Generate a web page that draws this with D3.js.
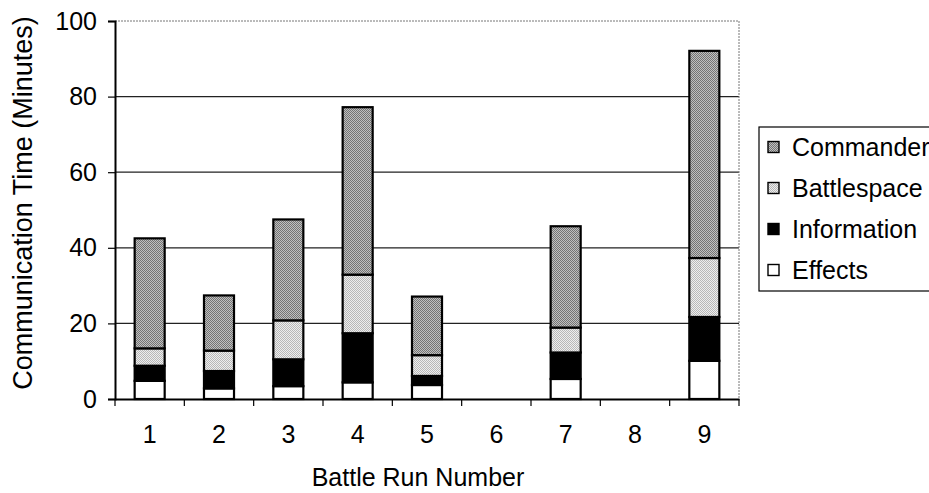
<!DOCTYPE html>
<html>
<head>
<meta charset="utf-8">
<script src="https://cdn.jsdelivr.net/npm/d3@7/dist/d3.min.js"></script>
<style>
  html, body { margin: 0; padding: 0; background: #fff; }
  svg { display: block; font-family: "Liberation Sans", Arial, sans-serif; }
</style>
</head>
<body>
<svg id="chart" width="929" height="493"></svg>
<script>
// Battle runs and communication time (minutes) per category
const runs = ["1", "2", "3", "4", "5", "6", "7", "8", "9"];
const effects     = [4.8, 2.8, 3.4, 4.4, 3.7, 0, 5.3, 0, 10.1];
const information = [4.0, 4.6, 7.1, 13.0, 2.4, 0, 7.0, 0, 11.6];
const battlespace = [4.6, 5.4, 10.3, 15.5, 5.5, 0, 6.6, 0, 15.6];
const commander   = [29.1, 14.6, 26.7, 44.3, 15.5, 0, 26.8, 0, 54.8];
const yTicks = [0, 20, 40, 60, 80, 100];

// Stack order bottom to top; legend lists them top to bottom
const seriesKeys = ["Effects", "Information", "Battlespace", "Commander"];
const seriesFill = {
  Effects: "#ffffff",
  Information: "#000000",
  Battlespace: "url(#stippleLight)",
  Commander: "url(#stippleDark)"
};

const rows = runs.map((r, i) => ({
  run: r,
  Effects: effects[i],
  Information: information[i],
  Battlespace: battlespace[i],
  Commander: commander[i]
}));

const svg = d3.select("#chart");
const plot = { left: 115, right: 739, top: 21, bottom: 399 };

// Stippled fills for the grey segments
const defs = svg.append("defs");
function stipple(id, a, b) {
  const p = defs.append("pattern").attr("id", id)
    .attr("width", 2).attr("height", 2).attr("patternUnits", "userSpaceOnUse");
  p.append("rect").attr("width", 2).attr("height", 2).attr("fill", a);
  p.append("rect").attr("width", 1).attr("height", 1).attr("fill", b);
  p.append("rect").attr("x", 1).attr("y", 1).attr("width", 1).attr("height", 1).attr("fill", b);
}
stipple("stippleDark", "#c0c0c0", "#747474");
stipple("stippleLight", "#eeeeee", "#b8b8b8");

const x = d3.scaleBand().domain(runs)
  .range([plot.left, plot.right])
  .paddingInner(0.567).paddingOuter(0.2835);
const y = d3.scaleLinear().domain([0, 100]).range([plot.bottom, plot.top]);

// Gridlines
svg.append("g").selectAll("line")
  .data(yTicks.filter(t => t > 0 && t < 100))
  .join("line")
  .attr("x1", plot.left).attr("x2", plot.right)
  .attr("y1", d => y(d)).attr("y2", d => y(d))
  .attr("stroke", "#222").attr("stroke-width", 1.3);

// Plot frame (top and right edges)
svg.append("path")
  .attr("d", `M${plot.left},${y(100)}H${plot.right}V${plot.bottom}`)
  .attr("fill", "none").attr("stroke", "#777").attr("stroke-width", 1)
  .attr("stroke-dasharray", "2,1");

// Stacked bars
const stacked = d3.stack().keys(seriesKeys)(rows);
const layers = svg.append("g").selectAll("g")
  .data(stacked).join("g")
  .attr("fill", d => seriesFill[d.key]);
layers.selectAll("rect")
  .data(d => d.filter(s => s[1] - s[0] > 0))
  .join("rect")
  .attr("x", d => x(d.data.run))
  .attr("width", x.bandwidth())
  .attr("y", d => y(d[1]))
  .attr("height", d => y(d[0]) - y(d[1]))
  .attr("stroke", "#000").attr("stroke-width", 2.2);

// Y axis
const yAxis = svg.append("g")
  .attr("transform", `translate(${plot.left},0)`)
  .call(d3.axisLeft(y).tickValues(yTicks).tickSize(7).tickPadding(11).tickFormat(d3.format("d")));
yAxis.select(".domain").attr("stroke", "#000").attr("stroke-width", 2);
yAxis.selectAll(".tick line").attr("stroke", "#000").attr("stroke-width", 1.2);
yAxis.selectAll(".tick text").attr("font-size", 25).attr("fill", "#000")
  .attr("font-family", "Liberation Sans, Arial, sans-serif");

// X axis: ticks at category boundaries
const xAxis = svg.append("g")
  .attr("transform", `translate(0,${plot.bottom})`)
  .call(d3.axisBottom(x).tickSize(0).tickPadding(26));
xAxis.select(".domain").attr("stroke", "#000").attr("stroke-width", 2);
xAxis.selectAll(".tick text").attr("font-size", 25).attr("fill", "#000")
  .attr("font-family", "Liberation Sans, Arial, sans-serif");
const step = x.step();
const bounds = d3.range(runs.length + 1).map(i => plot.left + i * step);
xAxis.append("g").selectAll("line").data(bounds).join("line")
  .attr("x1", d => d).attr("x2", d => d)
  .attr("y1", 0).attr("y2", 7)
  .attr("stroke", "#000").attr("stroke-width", 1.2);

// Axis titles
svg.append("text")
  .attr("x", 418).attr("y", 486)
  .attr("text-anchor", "middle").attr("font-size", 25).attr("fill", "#000")
  .text("Battle Run Number");
svg.append("text")
  .attr("transform", `translate(32,203) rotate(-90)`)
  .attr("text-anchor", "middle").attr("font-size", 27).attr("fill", "#000")
  .text("Communication Time (Minutes)");

// Legend
const legend = svg.append("g");
legend.append("rect")
  .attr("x", 759).attr("y", 127).attr("width", 200).attr("height", 164)
  .attr("fill", "#fff").attr("stroke", "#000").attr("stroke-width", 1.2);
const legendKeys = seriesKeys.slice().reverse();
const ly = d3.scalePoint().domain(legendKeys).range([147, 270]);
const items = legend.selectAll("g.item").data(legendKeys).join("g")
  .attr("class", "item")
  .attr("transform", d => `translate(768,${ly(d)})`);
items.append("rect")
  .attr("x", 0).attr("y", -5.5).attr("width", 11).attr("height", 11)
  .attr("fill", d => seriesFill[d]).attr("stroke", "#000").attr("stroke-width", 1.4);
items.append("text")
  .attr("x", 24).attr("y", 0).attr("dy", "0.35em")
  .attr("font-size", 25).attr("fill", "#000")
  .text(d => d);
</script>
</body>
</html>
